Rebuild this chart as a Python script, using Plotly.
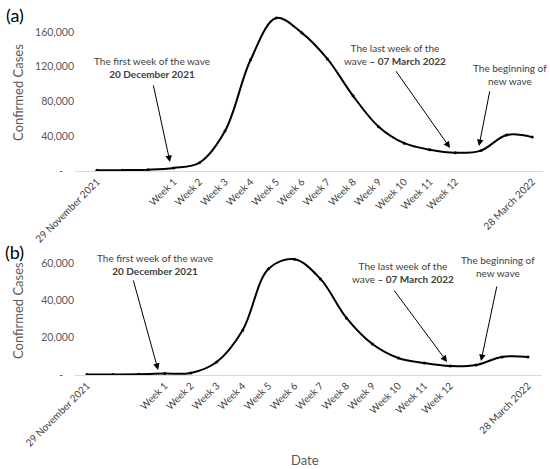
import plotly.graph_objects as go

# ---- data ----
week_idx = list(range(18))
tick_labels = ["29 November 2021", "", "", "Week 1", "Week 2", "Week 3", "Week 4", "Week 5",
               "Week 6", "Week 7", "Week 8", "Week 9", "Week 10", "Week 11", "Week 12",
               "", "", "28 March 2022"]
cases_a = [1000, 1000, 1500, 3500, 9500, 46000, 128000, 176000, 159000, 129000,
           86500, 51000, 32000, 24500, 21000, 23500, 41500, 39000]
cases_b = [200, 300, 400, 800, 1100, 7000, 24000, 57000, 62000, 51500,
           30600, 16600, 9100, 6400, 4800, 5400, 9700, 9700]
yticks_a = [0, 40000, 80000, 120000, 160000]
yticks_b = [0, 20000, 40000, 60000]

FONT = "Lato"
GREY = "#595959"
DARK = "#404040"

def fmt(v):
    return "-\u00a0\u00a0\u00a0\u00a0" if v == 0 else f"{v:,}"

fig = go.Figure()
fig.add_trace(go.Scatter(x=week_idx, y=cases_a, mode="lines+markers",
                         line=dict(color="black", width=2, shape="spline"),
                         marker=dict(size=3, color="black"),
                         cliponaxis=False, xaxis="x", yaxis="y", showlegend=False))
fig.add_trace(go.Scatter(x=week_idx, y=cases_b, mode="lines+markers",
                         line=dict(color="black", width=2, shape="spline"),
                         marker=dict(size=3, color="black"),
                         cliponaxis=False, xaxis="x2", yaxis="y2", showlegend=False))

xcommon = dict(tickmode="array", tickvals=week_idx, ticktext=tick_labels, tickangle=-45,
               showgrid=False, zeroline=False, showline=True, linecolor="#d9d9d9",
               linewidth=1, ticks="", automargin=False,
               tickfont=dict(family=FONT, size=10, color=DARK))
ycommon = dict(showgrid=False, zeroline=False, showline=False, ticks="", automargin=False,
               tickfont=dict(family=FONT, size=10.5, color=GREY))

fig.update_layout(
    width=550, height=469,
    margin=dict(l=0, r=0, t=0, b=0),
    paper_bgcolor="white", plot_bgcolor="white",
    font=dict(family=FONT),
    xaxis=dict(domain=[0.13636, 0.98727], range=[-0.859, 17.42], anchor="y", **xcommon),
    yaxis=dict(domain=[0.63539, 0.97441], range=[0, 183000], anchor="x",
               tickvals=yticks_a, ticktext=[fmt(v) for v in yticks_a], **ycommon),
    xaxis2=dict(domain=[0.13636, 0.98545], range=[-0.463, 17.54], anchor="y2", **xcommon),
    yaxis2=dict(domain=[0.20043, 0.46695], range=[0, 67000], anchor="x2",
                tickvals=yticks_b, ticktext=[fmt(v) for v in yticks_b], **ycommon),
)

ann = []
txtfont = dict(family=FONT, size=10, color=DARK)
def text(x, y, s, xr, yr):
    ann.append(dict(x=x, y=y, xref=xr, yref=yr, text=s, showarrow=False,
                    font=txtfont, align="center", xanchor="center", yanchor="middle"))
def arrow(hx, hy, tx, ty, xr, yr):
    ann.append(dict(x=hx, y=hy, ax=tx, ay=ty, xref=xr, yref=yr, axref=xr, ayref=yr,
                    text="", showarrow=True, arrowhead=2, arrowsize=1.3, arrowwidth=1,
                    arrowcolor="black"))

# panel (a)
text(2.15, 118800, "The first week of the wave<br><b>20 December 2021</b>", "x", "y")
arrow(2.85, 10400, 2.19, 100300, "x", "y")
text(11.64, 133700, "The last week of the<br>wave <b>– 07 March 2022</b>", "x", "y")
arrow(13.79, 26500, 11.64, 116500, "x", "y")
text(16.13, 111300, "The beginning of<br>new wave", "x", "y")
arrow(14.92, 28800, 15.35, 93400, "x", "y")

# panel (b)
text(2.62, 59250, "The first week of the wave<br><b>20 December 2021</b>", "x2", "y2")
arrow(2.74, 2700, 1.77, 51500, "x2", "y2")
text(12.18, 54960, "The last week of the<br>wave <b>– 07 March 2022</b>", "x2", "y2")
arrow(13.88, 7000, 11.80, 46100, "x2", "y2")
text(15.84, 57900, "The beginning of<br>new wave", "x2", "y2")
arrow(15.19, 7500, 15.81, 48260, "x2", "y2")

# titles and panel labels
common = dict(xref="paper", yref="paper", showarrow=False, xanchor="center", yanchor="middle")
ann.append(dict(x=0.0327, y=0.804, text="Confirmed Cases", textangle=-90,
                font=dict(family=FONT, size=13, color=GREY), **common))
ann.append(dict(x=0.0327, y=0.339, text="Confirmed Cases", textangle=-90,
                font=dict(family=FONT, size=13, color=GREY), **common))
ann.append(dict(x=0.5545, y=0.0192, text="Date",
                font=dict(family=FONT, size=13, color=GREY), **common))
ann.append(dict(x=0.027, y=0.968, text="(a)",
                font=dict(family=FONT, size=18, color="black"), **common))
ann.append(dict(x=0.027, y=0.463, text="(b)",
                font=dict(family=FONT, size=18, color="black"), **common))

fig.update_layout(annotations=ann)
fig.write_html("out.html", config={"displayModeBar": False},
               post_script="document.body.style.margin='0';")
